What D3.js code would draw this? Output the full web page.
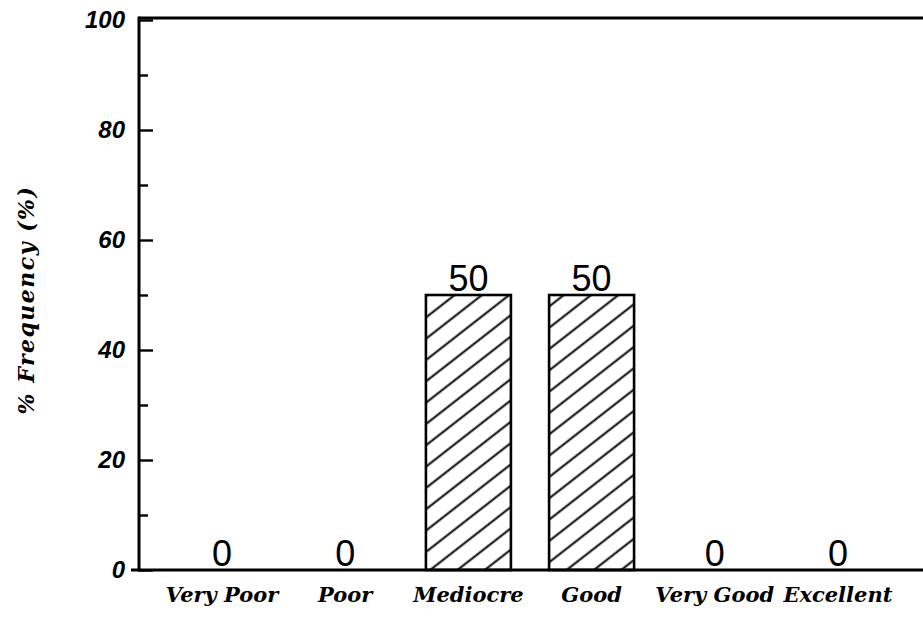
<!DOCTYPE html>
<html>
<head>
<meta charset="utf-8">
<script src="https://cdn.jsdelivr.net/npm/d3@7/dist/d3.min.js"></script>
<style>
  html, body { margin: 0; padding: 0; background: #fff; }
  svg { display: block; }
</style>
</head>
<body>
<svg id="chart" width="923" height="619"></svg>
<script>
// Rating categories and their frequency (%)
const categories = ["Very Poor", "Poor", "Mediocre", "Good", "Very Good", "Excellent"];
const frequencies = [0, 0, 50, 50, 0, 0];

// Y axis ticks
const yMajorTicks = [0, 20, 40, 60, 80, 100];
const yMajorLabels = ["0", "20", "40", "60", "80", "100"];
const yMinorTicks = [10, 30, 50, 70, 90];

const yTitle = "% Frequency (%)";

const svg = d3.select("#chart");

const plotLeft = 139, plotRight = 923, plotTop = 20, plotBottom = 570;

const x = d3.scaleBand()
  .domain(categories)
  .range([160.5, 899.5])
  .paddingInner(0.31)
  .paddingOuter(0.155);

const y = d3.scaleLinear()
  .domain([0, 100])
  .range([plotBottom, plotTop]);

// Diagonal hatching for the bars
const defs = svg.append("defs");
const pat = defs.append("pattern")
  .attr("id", "hatch")
  .attr("patternUnits", "userSpaceOnUse")
  .attr("width", 40)
  .attr("height", 16.8)
  .attr("patternTransform", "rotate(-38)");
pat.append("line")
  .attr("x1", -5).attr("y1", 8.4)
  .attr("x2", 45).attr("y2", 8.4)
  .attr("stroke", "#000")
  .attr("stroke-width", 2.2);

const rows = categories.map((c, i) => ({ c, v: frequencies[i] }));

// Bars
svg.append("g")
  .selectAll("rect")
  .data(rows.filter(d => d.v > 0))
  .join("rect")
  .attr("x", d => x(d.c))
  .attr("y", d => y(d.v))
  .attr("width", x.bandwidth())
  .attr("height", d => y(0) - y(d.v))
  .attr("fill", "url(#hatch)")
  .attr("stroke", "#000")
  .attr("stroke-width", 2.6);

// Value labels
svg.append("g")
  .selectAll("text")
  .data(rows)
  .join("text")
  .attr("x", d => x(d.c) + x.bandwidth() / 2)
  .attr("y", d => y(d.v) - 4)
  .attr("text-anchor", "middle")
  .attr("font-family", "'Liberation Sans', Arial, sans-serif")
  .attr("font-size", 36)
  .attr("fill", "#000")
  .text(d => d.v);

// Y axis: major ticks pointing inward, labels on the left
const yAxis = d3.axisLeft(y)
  .tickValues(yMajorTicks)
  .tickFormat((d, i) => yMajorLabels[i])
  .tickSize(-14)
  .tickPadding(14);

const gy = svg.append("g")
  .attr("transform", `translate(${plotLeft},0)`)
  .call(yAxis);
gy.select(".domain").remove();
gy.selectAll(".tick line").attr("stroke", "#000").attr("stroke-width", 2.4);
gy.selectAll(".tick text")
  .attr("font-family", "'Liberation Sans', Arial, sans-serif")
  .attr("font-style", "italic")
  .attr("font-weight", "bold")
  .attr("font-size", 24)
  .attr("fill", "#000");

const yMinor = d3.axisLeft(y)
  .tickValues(yMinorTicks)
  .tickFormat("")
  .tickSize(-9);
const gym = svg.append("g")
  .attr("transform", `translate(${plotLeft},0)`)
  .call(yMinor);
gym.select(".domain").remove();
gym.selectAll(".tick line").attr("stroke", "#000").attr("stroke-width", 2.4);

// X axis category labels
const xAxis = d3.axisBottom(x).tickSize(0).tickPadding(17);
const gx = svg.append("g")
  .attr("transform", `translate(0,${plotBottom})`)
  .call(xAxis);
gx.select(".domain").remove();
gx.selectAll(".tick text")
  .attr("font-family", "'DejaVu Serif', serif")
  .attr("font-style", "italic")
  .attr("font-weight", "bold")
  .attr("font-size", 21)
  .attr("fill", "#000");

// Frame lines
const frame = svg.append("g")
  .attr("stroke", "#000")
  .attr("stroke-width", 3)
  .attr("fill", "none");
frame.append("line").attr("x1", plotLeft).attr("y1", plotTop - 2).attr("x2", plotRight).attr("y2", plotTop - 2);
frame.append("line").attr("x1", plotLeft).attr("y1", plotTop - 3.5).attr("x2", plotLeft).attr("y2", plotBottom + 1.5);
frame.append("line").attr("x1", plotLeft - 8).attr("y1", plotBottom).attr("x2", plotRight).attr("y2", plotBottom);

// Y axis title
svg.append("text")
  .attr("transform", `translate(34,300) rotate(-90)`)
  .attr("text-anchor", "middle")
  .attr("font-family", "'DejaVu Serif', serif")
  .attr("font-style", "italic")
  .attr("font-weight", "bold")
  .attr("font-size", 22)
  .attr("letter-spacing", 1.5)
  .attr("fill", "#000")
  .text(yTitle);
</script>
</body>
</html>
